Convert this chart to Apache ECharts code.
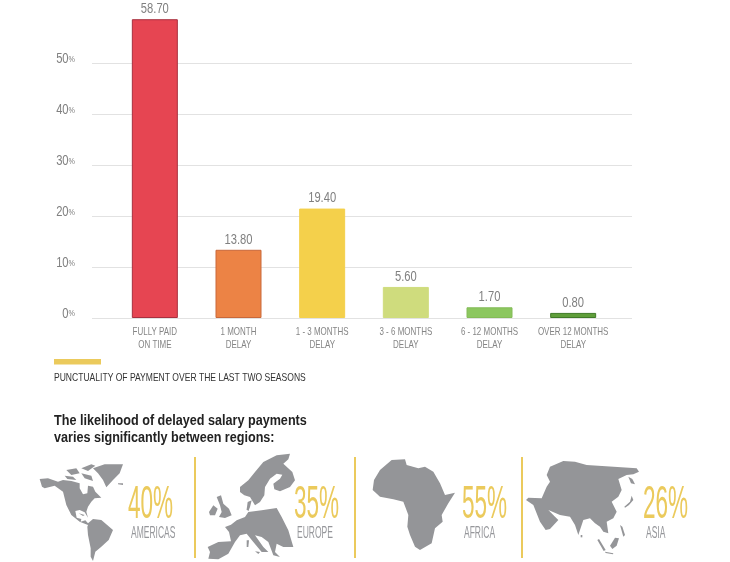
<!DOCTYPE html>
<html><head><meta charset="utf-8">
<style>html,body{margin:0;padding:0;background:#fff}#c{width:730px;height:562px}</style>
<script src="https://cdn.jsdelivr.net/npm/echarts@6/dist/echarts.min.js"></script>
</head><body><div id="c"></div>
<script>
const categories = ['FULLY PAID\nON TIME','1 MONTH\nDELAY','1 - 3 MONTHS\nDELAY','3 - 6 MONTHS\nDELAY','6 - 12 MONTHS\nDELAY','OVER 12 MONTHS\nDELAY'];
// the printed figures, and the bar heights as drawn in the picture (they differ slightly)
const printedValues = ['58.70','13.80','19.40','5.60','1.70','0.80'];
const barHeights = [58.7,13.4,21.5,6.1,2.1,1.0];
const barColors = ['#e64552','#ec8345','#f4d04b','#cfdc7d','#8cc75f','#5f9e3a'];
const barBorders = ['#a8303f','#c9683a','#f4d04b','#cfdc7d','#84bb58','#3f7a28'];
const regions = ['AMERICAS','EUROPE','AFRICA','ASIA'];
const regionShares = ['40%','35%','55%','26%'];
const legendText = 'PUNCTUALITY OF PAYMENT OVER THE LAST TWO SEASONS';
const headline = ['The likelihood of delayed salary payments','varies significantly between regions:'];

const SANS = '"Liberation Sans",sans-serif';
const GOLD = '#ebca5c', MAP = '#949598';

// decorative map silhouettes, in 3x units, each set placed by an offset
const mapAmericas = [
 [5,72,30,70,60,80,75,75,100,78,125,85,125,100,135,118,148,115,150,92,165,95,172,110,190,128,170,130,160,140,150,155,145,170,150,188,140,172,125,165,112,168,116,188,130,192,128,200,142,196,150,205,165,192,190,195,225,225,212,255,190,275,172,290,165,318,158,305,158,280,150,240,148,215,150,210,125,200,100,180,85,150,75,110,50,92,20,100,12,95],
 [165,40,200,28,255,28,245,55,225,75,205,97,195,75,180,55],
 [130,40,160,28,172,32,150,48],[85,45,115,40,125,55,100,60],[130,55,160,62,165,78,140,70],[80,62,105,65,115,75,88,72],
 [122,175,140,180,135,183],[240,85,255,85,255,90,240,88]
];
const mapEurope = [
 [105,105,130,85,150,60,175,30,215,10,255,5,250,22,235,35,262,60,270,85,255,105,225,118,208,112,205,95,225,80,232,68,215,65,195,80,180,105,178,130,165,150,150,160,135,135,118,130,105,120],
 [125,172,128,150,140,145,135,165,130,178],
 [35,135,48,130,55,155,72,170,80,190,60,198,42,195,50,180,45,160],
 [12,180,25,160,38,170,30,190,15,190],
 [8,285,40,270,78,268,72,240,60,225,78,218,95,205,120,195,130,180,170,175,215,168,230,195,250,235,265,285,235,285,215,275,210,300,225,315,205,310,190,270,170,255,150,250,175,285,190,300,170,300,145,270,125,245,105,250,90,270,70,305,40,322,10,320,15,300],
 [125,265,132,265,130,285,125,285],[150,298,165,300,160,306]
];
const mapAfrica = [
 [68,150,72,120,90,90,125,60,165,58,170,75,205,85,225,80,250,95,270,130,285,165,315,158,295,190,275,225,278,245,255,265,245,310,210,330,195,320,180,285,172,260,175,225,160,185,130,178,90,170]
];
const mapAsia = [
 [75,35,115,18,150,20,185,30,335,40,342,50,325,58,305,60,280,72,290,105,280,125,260,140,275,170,265,190,245,200,250,235,235,230,225,215,210,205,195,190,175,195,160,240,150,210,135,185,105,180,70,165,90,185,100,195,75,222,62,225,45,200,25,150,3,135,10,128,50,130,65,95,75,80,65,60],
 [310,65,322,72,330,88,318,85],
 [298,155,315,140,320,122,325,135,312,150,300,158],
 [285,210,292,215,300,240,295,245],
 [255,272,270,248,282,250,275,272,262,282],
 [217,255,222,252,242,285,236,288],
 [240,290,265,295,264,298,242,294],
 [167,240,172,240,172,247,167,247]
];
function mapGraphics(list, ox, oy){
  return list.map(p=>{
    const pts=[]; for(let i=0;i<p.length;i+=2) pts.push([ox+p[i]/3, oy+p[i+1]/3]);
    return {type:'polygon',shape:{points:pts},style:{fill:MAP}};
  });
}
const shareX=[128,294,462,643], nameX=[131,297,464,646], dividerX=[195,355,522];
const graphics = [
 {type:'rect',shape:{x:54,y:359,width:47,height:5.5},style:{fill:GOLD}},
 {type:'text',x:54,y:378,scaleX:.743,style:{text:legendText,font:'11.5px '+SANS,fill:'#333',textVerticalAlign:'middle'}},
 {type:'text',x:54,y:421,scaleX:.9,style:{text:headline[0],font:'bold 14px '+SANS,fill:'#222',textVerticalAlign:'middle'}},
 {type:'text',x:54,y:438,scaleX:.9,style:{text:headline[1],font:'bold 14px '+SANS,fill:'#222',textVerticalAlign:'middle'}},
 ...dividerX.map(x=>({type:'rect',shape:{x:x-1,y:457,width:2,height:101},style:{fill:GOLD}})),
 ...mapGraphics(mapAmericas,38,455),
 ...mapGraphics(mapEurope,205,452),
 ...mapGraphics(mapAfrica,350,440),
 ...mapGraphics(mapAsia,525,455),
 ...regionShares.map((t,i)=>({type:'text',x:shareX[i],y:505,scaleX:.49,style:{text:t,font:'46px '+SANS,fill:GOLD,textVerticalAlign:'middle'}})),
 ...regions.map((t,i)=>({type:'text',x:nameX[i],y:533,scaleX:.5,style:{text:t,font:'17px '+SANS,fill:'#96979b',textVerticalAlign:'middle'}}))
];

const chart = echarts.init(document.getElementById('c'),null,{renderer:'canvas'});
chart.setOption({
  animation:false,
  backgroundColor:'#fff',
  grid:[
    {left:92,width:540,top:12.6,height:305.4},
    {left:113,width:502,top:12.6,height:305.4}
  ],
  xAxis:[
    {gridIndex:0,type:'category',data:categories,show:false},
    {gridIndex:1,type:'category',data:categories,
     axisLine:{show:false},axisTick:{show:false},
     axisLabel:{interval:0,hideOverlap:false,margin:8,fontFamily:SANS,fontSize:10.5,lineHeight:13,color:'#858585'}}
  ],
  yAxis:[
    {gridIndex:0,type:'value',min:0,max:60,interval:10,
     axisLine:{show:false},axisTick:{show:false},
     splitLine:{show:true,showMaxLine:false,lineStyle:{color:'#e2e2e2',width:1}},
     axisLabel:{showMaxLabel:false,margin:17,padding:[0,0,8,0],
       formatter:v=>'{n|'+v+'}{p|%}',
       rich:{n:{fontFamily:SANS,fontSize:14,color:'#808080'},p:{fontFamily:SANS,fontSize:9,color:'#808080'}}}},
    {gridIndex:1,type:'value',min:0,max:60,interval:10,show:false,splitLine:{show:false}}
  ],
  series:[{
    type:'bar',xAxisIndex:1,yAxisIndex:1,barWidth:46,z:5,
    data:barHeights.map((v,i)=>({value:v,itemStyle:{color:barColors[i],borderColor:barBorders[i],borderWidth:1}})),
    label:{show:true,position:'top',distance:3,formatter:p=>printedValues[p.dataIndex],fontFamily:SANS,fontSize:14,color:'#808080'}
  }],
  graphic:graphics
});
// The reference's type is condensed and no condensed face is installed: narrow the library's own axis and bar labels.
const zr = chart.getZr();
const narrow = el=>{
  if(el.type==='text' && el.style && el.style.text!==undefined && el.scaleX===1){
    const t=String(el.style.text);
    el.scaleX = (t.includes('MONTH')||t.includes('FULLY')) ? .76 : .8;
    el.markRedraw();
  }
};
zr.storage.traverse(el=>{
  narrow(el);
  const tc = el.getTextContent && el.getTextContent();
  if(tc) narrow(tc);
});
zr.refresh();
</script></body></html>
